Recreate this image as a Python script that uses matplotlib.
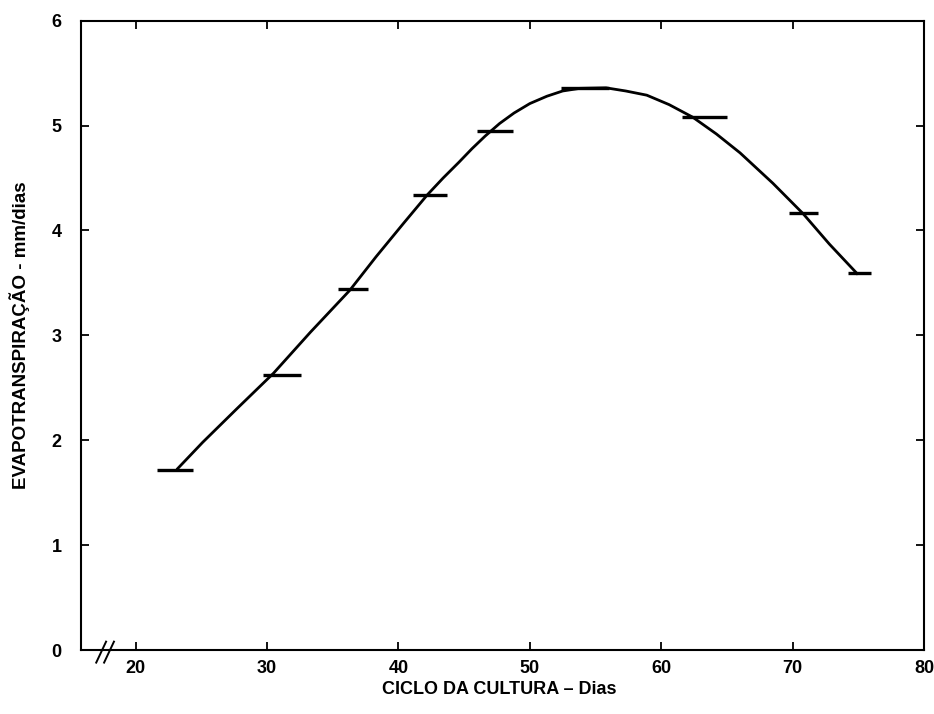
import matplotlib
matplotlib.use("Agg")
import matplotlib.pyplot as plt

plt.rcParams['font.family'] = ['Liberation Sans', 'DejaVu Sans']
plt.rcParams['font.weight'] = 'bold'

# curve (dias, mm/dia)
curve_dias = [23.2, 25.1, 27.7, 30.5, 33.3, 36.3, 38.3, 40.4, 42.2, 43.4,
              44.6, 45.6, 46.6, 47.7, 48.8, 50.0, 51.3, 52.5, 53.8, 55.8,
              57.3, 58.9, 60.6, 62.4, 64.2, 66.0, 68.5, 70.8, 72.8, 74.9]
curve_et = [1.73, 1.98, 2.30, 2.64, 3.03, 3.43, 3.75, 4.07, 4.34, 4.50,
            4.65, 4.78, 4.90, 5.02, 5.12, 5.21, 5.28, 5.33, 5.355, 5.36,
            5.33, 5.29, 5.20, 5.08, 4.92, 4.74, 4.45, 4.16, 3.87, 3.59]

# observed values (horizontal bars: start day, end day, value)
obs_start = [21.6, 29.7, 35.4, 41.1, 46.0, 52.4, 61.6, 69.7, 74.2]
obs_end = [24.4, 32.6, 37.7, 43.7, 48.7, 56.0, 65.0, 71.9, 76.0]
obs_et = [1.72, 2.62, 3.44, 4.34, 4.95, 5.36, 5.08, 4.17, 3.59]

x_ticks = [20, 30, 40, 50, 60, 70, 80]
y_ticks = [0, 1, 2, 3, 4, 5, 6]

fig = plt.figure(figsize=(9.34, 7.14), dpi=100)
ax = fig.add_axes([0.0867, 0.0896, 0.9026, 0.8814])

ax.plot(curve_dias, curve_et, color='black', lw=2.0, solid_joinstyle='round')
ax.hlines(obs_et, obs_start, obs_end, color='black', lw=2.4)

ax.set_xlim(15.84, 80)
ax.set_ylim(0, 6)
ax.set_xticks(x_ticks)
ax.set_yticks(y_ticks)
ax.tick_params(direction='in', length=6, width=1.3, top=True, right=True,
               labelsize=13, colors='black')
ax.tick_params(axis='x', pad=7)
ax.tick_params(axis='y', pad=14)
for s in ax.spines.values():
    s.set_linewidth(1.5)

# axis break marks
for dx in [0.0, 0.6]:
    ax.plot([17.0 + dx, 17.75 + dx], [-0.12, 0.08], color='black', lw=1.4,
            clip_on=False)

fig.text(0.021, 0.53, 'EVAPOTRANSPIRAÇÃO - mm/dias', rotation=90,
         ha='center', va='center', fontsize=13.5, fontweight='bold')
fig.text(0.535, 0.035, 'CICLO DA CULTURA – Dias', ha='center', va='center',
         fontsize=13, fontweight='bold')

fig.savefig('out.png', dpi=100)
